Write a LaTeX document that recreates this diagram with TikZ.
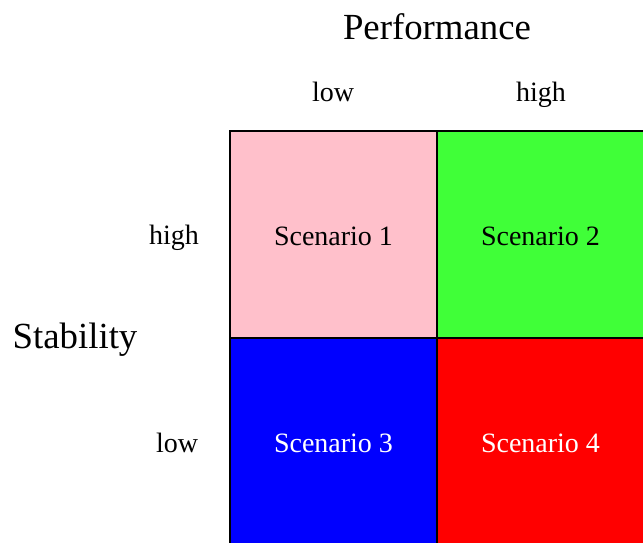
\documentclass[tikz,border=0pt]{standalone}
\usepackage{fontspec}
\setmainfont{Liberation Serif}
\definecolor{cpink}{RGB}{255,192,203}
\definecolor{cgreen}{RGB}{64,255,56}
\definecolor{cblue}{RGB}{0,0,255}
\definecolor{cred}{RGB}{255,0,0}
\begin{document}
\begin{tikzpicture}[x=1pt,y=1pt,
  cell/.style={draw=black,line width=2pt,minimum width=207pt,minimum height=207pt,inner sep=0pt,
    text height=21pt,text depth=0pt,font=\fontsize{28}{32}\selectfont},
  small/.style={inner sep=0pt,anchor=base,font=\fontsize{28}{32}\selectfont},
  big/.style={inner sep=0pt,anchor=base,font=\fontsize{36.8}{42}\selectfont}]
\useasboundingbox (0,0) rectangle (643,542);
\node[cell,fill=cpink] (s1) at (333.5,307.5) {Scenario 1};
\node[cell,fill=cgreen] (s2) at (540.5,307.5) {Scenario 2};
\node[cell,fill=cblue,text=white] (s3) at (333.5,100.5) {Scenario 3};
\node[cell,fill=cred,text=white] (s4) at (540.5,100.5) {Scenario 4};
\node[big] (perf) at (437,502) {Performance};
\node[small] (plow) at (333,440) {low};
\node[small] (phigh) at (541,440) {high};
\node[big] (stab) at (75,194) {Stability};
\node[small] (shigh) at (174,298) {high};
\node[small] (slow) at (177,90) {low};
\end{tikzpicture}
\end{document}
